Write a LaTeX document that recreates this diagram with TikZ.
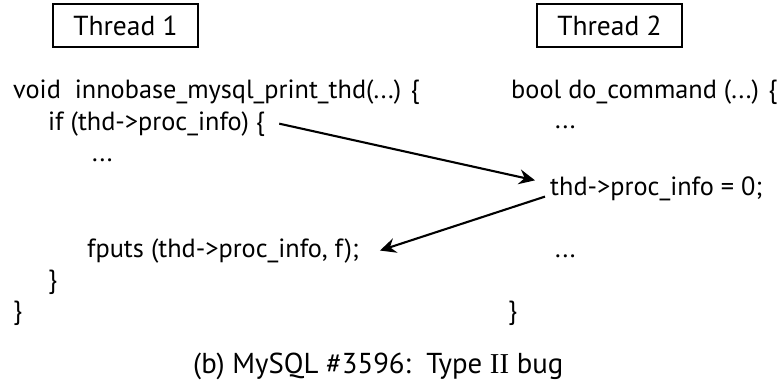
\documentclass[tikz,border=0pt]{standalone}
\usepackage{fontspec}
\setmainfont{PT Sans}
\newfontfamily\serifii{Liberation Serif}
\usetikzlibrary{arrows.meta,calc}
\begin{document}
\begin{tikzpicture}[x=1pt,y=-1pt,
  code/.style={anchor=base west,inner sep=0pt,font=\fontsize{26.3}{26.3}\selectfont},
  thread/.style={draw,line width=1.5pt,minimum width=145pt,minimum height=43pt,inner sep=0pt,font=\fontsize{27.5}{27.5}\selectfont},
  link/.style={line width=2.1pt,-{Stealth[length=16pt,width=15pt,inset=5.5pt]}}]
\useasboundingbox (0,0) rectangle (778,381);
\node[thread] (t1) at (125.5,25.5) {Thread 1};
\node[thread] (t2) at (609.5,25.5) {Thread 2};
\node[code] (l1) at (13,98) {void\ \ innobase\_mysql\_print\_thd(...) \{};
\node[code] (l2) at (48,130) {if (thd->proc\_info) \{};
\node[code] (l3) at (92,161) {...};
\node[code] (l4) at (87,257) {fputs (thd->proc\_info, f);};
\node[code] (l5) at (48,288) {\}};
\node[code] (l6) at (13,319) {\}};
\node[code] (r1) at (511,98) {bool do\_command (...) \{};
\node[code] (r2) at (555,128) {...};
\node[code] (r3) at (550,195) {thd->proc\_info = 0;};
\node[code] (r4) at (555,257) {...};
\node[code] (r5) at (508,319) {\}};
\node[code,font=\fontsize{28.8}{28.8}\selectfont] (cap) at (193,373) {(b) MySQL \#3596:\ \ Type {\serifii II} bug};
\draw[link] ([xshift=14pt]l2.east) -- ([xshift=-15pt,yshift=8pt]r3.west);
\draw[link] ([xshift=-5pt,yshift=4pt]r3.south west) -- ([xshift=21pt]l4.east);
\end{tikzpicture}
\end{document}
